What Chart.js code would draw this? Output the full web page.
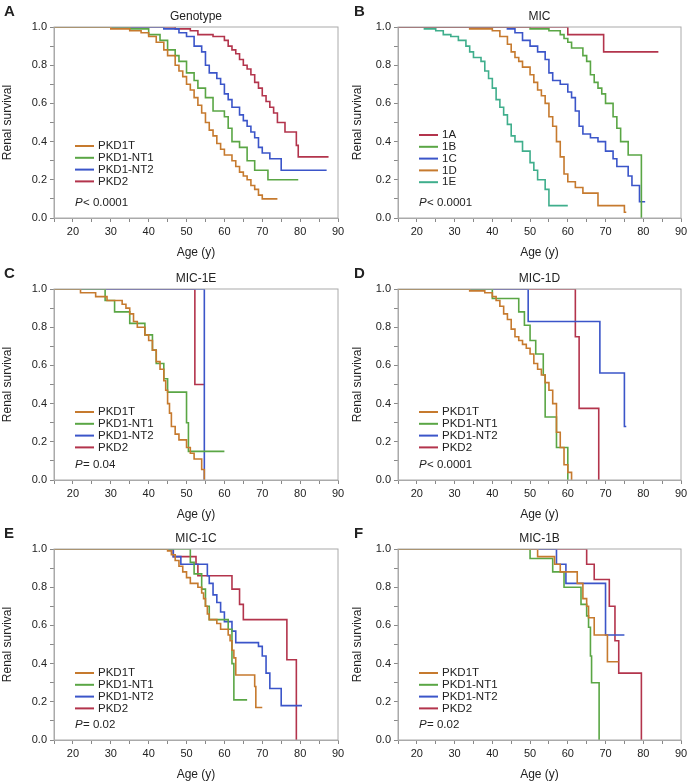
<!DOCTYPE html>
<html>
<head>
<meta charset="utf-8">
<script src="https://cdn.jsdelivr.net/npm/chart.js@4"></script>
<style>
  body { margin: 0; background: #fff; }
  .panel { position: absolute; width: 350px; height: 260px; }
</style>
</head>
<body>
<div class="panel" style="left:0;top:0"><canvas id="cA"></canvas></div>
<div class="panel" style="left:350px;top:0"><canvas id="cB"></canvas></div>
<div class="panel" style="left:0;top:262px"><canvas id="cC"></canvas></div>
<div class="panel" style="left:350px;top:262px"><canvas id="cD"></canvas></div>
<div class="panel" style="left:0;top:522px"><canvas id="cE"></canvas></div>
<div class="panel" style="left:350px;top:522px"><canvas id="cF"></canvas></div>
<script>
// survival curves as [age, survival after event]
const genoLabels = ['PKD1T', 'PKD1-NT1', 'PKD1-NT2', 'PKD2'];
const micLabels = ['1A', '1B', '1C', '1D', '1E'];
const xTicks = [20, 30, 40, 50, 60, 70, 80, 90];

const aPKD1T = [[15,1],[30,0.99],[35,0.98],[38,0.97],[40,0.95],[42,0.92],[44,0.88],[45,0.85],[47,0.80],[48,0.77],[49,0.74],[50,0.70],[51,0.67],[52,0.63],[53,0.59],[54,0.55],[55,0.50],[56,0.46],[57,0.43],[58,0.39],[59,0.36],[60,0.33],[62,0.30],[63,0.27],[64,0.24],[65,0.22],[66,0.20],[67,0.17],[68,0.15],[69,0.12],[70,0.10],[74,0.10]];
const aNT1 = [[15,1],[35,0.99],[40,0.96],[43,0.93],[45,0.88],[47,0.85],[48,0.82],[50,0.76],[52,0.72],[53,0.68],[55,0.63],[57,0.56],[60,0.53],[61,0.47],[62,0.40],[64,0.37],[66,0.30],[68,0.25],[71.5,0.20],[79.5,0.20]];
const aNT2 = [[15,1],[44,0.99],[48,0.97],[50,0.95],[52,0.90],[54,0.87],[55,0.80],[56,0.76],[58,0.73],[59,0.70],[60,0.65],[61,0.62],[62,0.58],[64,0.54],[65,0.51],[66,0.48],[67,0.45],[68,0.42],[69,0.37],[70,0.34],[72,0.31],[75,0.25],[87,0.25]];
const aPKD2 = [[15,1],[47,0.99],[51,0.98],[53,0.96],[57,0.95],[60,0.93],[61,0.90],[62,0.88],[63,0.86],[64,0.83],[65,0.80],[66,0.78],[67,0.75],[68,0.71],[69,0.68],[70,0.64],[71,0.61],[72,0.58],[73,0.55],[74,0.50],[76,0.45],[79,0.38],[79.5,0.32],[87.5,0.32]];

const b1A = [[15,1],[60,0.96],[69.5,0.87],[84,0.87]];
const b1B = [[15,1],[50,0.99],[55,0.98],[58,0.96],[59,0.94],[60,0.92],[61,0.89],[64,0.85],[65,0.82],[66,0.75],[67,0.71],[68,0.68],[69,0.65],[70,0.60],[72,0.53],[73,0.47],[74,0.40],[76,0.33],[79.5,0]];
const b1C = [[15,1],[44,0.99],[46,0.97],[48,0.93],[50,0.90],[52,0.87],[54,0.83],[55,0.76],[56,0.72],[58,0.70],[60,0.66],[61,0.63],[62,0.56],[63,0.48],[64,0.44],[66,0.42],[68,0.40],[70,0.35],[72,0.31],[73,0.27],[76,0.22],[77,0.17],[79,0.085],[80.5,0.085]];
const b1D = [[15,1],[34,0.99],[40,0.98],[42,0.95],[44,0.91],[45,0.87],[46,0.84],[47,0.82],[48,0.79],[50,0.75],[51,0.71],[52,0.67],[53,0.64],[54,0.60],[55,0.53],[56,0.48],[57,0.40],[58,0.32],[59,0.23],[60,0.19],[62,0.16],[64,0.13],[68,0.065],[75,0.03],[75.5,0.03]];
const b1E = [[15,1],[22,0.99],[25,0.98],[27,0.96],[29,0.95],[31,0.93],[33,0.90],[34,0.87],[35,0.84],[37,0.82],[38,0.77],[39,0.73],[40,0.68],[41,0.62],[42,0.58],[43,0.54],[44,0.49],[45,0.43],[46,0.40],[48,0.35],[50,0.29],[51,0.25],[52,0.20],[54,0.15],[55,0.065],[60,0.065]];

const cPKD1T = [[15,1],[22,0.98],[26,0.96],[29,0.94],[33,0.92],[34,0.90],[35,0.87],[36,0.83],[37,0.80],[39,0.76],[40,0.73],[41,0.68],[42,0.62],[43,0.58],[44,0.52],[44.5,0.47],[45,0.40],[45.5,0.35],[46,0.28],[47,0.24],[48,0.21],[50,0.17],[51,0.14],[52,0.11],[54,0.055],[54.7,0]];
const cNT1 = [[15,1],[28.5,0.94],[31,0.88],[35,0.82],[39,0.76],[41,0.68],[42,0.61],[44,0.53],[45,0.46],[50,0.30],[50.5,0.15],[60,0.15]];
const cNT2 = [[15,1],[54.7,0]];
const cPKD2 = [[15,1],[52.2,0.5],[54.7,0.5]];

const dPKD1T = [[15,1],[34,0.99],[38,0.98],[40,0.96],[41,0.94],[42,0.91],[43,0.87],[44,0.84],[45,0.79],[46,0.75],[47,0.73],[48,0.71],[49,0.69],[50,0.66],[51,0.61],[52,0.58],[53,0.55],[54,0.51],[55,0.47],[56,0.40],[57,0.25],[58,0.17],[59,0.08],[60,0.04],[61,0]];
const dNT1 = [[15,1],[40,0.95],[47,0.88],[48.5,0.81],[50,0.73],[51.5,0.66],[53.5,0.55],[54,0.33],[57,0.17],[60,0]];
const dNT2 = [[15,1],[49.5,0.83],[68.5,0.56],[75,0.28],[75.5,0.28]];
const dPKD2 = [[15,1],[62,0.75],[63,0.375],[68.2,0]];

const ePKD1T = [[15,1],[45,0.99],[46,0.97],[47,0.94],[48,0.91],[49,0.88],[50,0.85],[51,0.82],[53,0.80],[54,0.77],[54.5,0.74],[55,0.70],[55.5,0.66],[56,0.63],[58,0.61],[59,0.58],[61,0.55],[61.5,0.52],[62,0.47],[62.5,0.43],[63,0.34],[68,0.28],[68.3,0.17],[70,0.17]];
const eNT1 = [[15,1],[51,0.93],[52,0.87],[54,0.79],[55,0.70],[56,0.63],[60,0.63],[61,0.58],[62,0.40],[62.5,0.21],[66,0.21]];
const eNT2 = [[15,1],[46.5,0.96],[48.5,0.92],[55.5,0.86],[56,0.82],[57,0.76],[58,0.72],[59,0.67],[60,0.62],[62,0.57],[63,0.51],[69,0.49],[70,0.44],[71,0.35],[72,0.27],[75,0.18],[80.5,0.18]];
const ePKD2 = [[15,1],[46.5,0.96],[52.5,0.92],[53,0.86],[62,0.79],[64,0.71],[65,0.63],[76.5,0.42],[79,0]];

const fPKD1T = [[15,1],[52,0.96],[56.5,0.92],[58,0.88],[62.5,0.82],[64,0.74],[65,0.70],[65.5,0.64],[67,0.55],[70,0.55],[70.5,0.41],[73.5,0.41]];
const fNT1 = [[15,1],[50,0.95],[56,0.88],[59,0.80],[63.5,0.71],[65,0.65],[65.5,0.59],[66,0.44],[66.3,0.30],[68.3,0]];
const fNT2 = [[15,1],[57,0.92],[59.5,0.82],[70,0.55],[75,0.55]];
const fPKD2 = [[15,1],[65,0.92],[67,0.84],[71,0.70],[72.5,0.52],[73.5,0.35],[79.5,0]];

const cOrange = '#c67a2e', cGreen = '#5aa645', cBlue = '#3b55c9', cRed = '#b3344c', cTeal = '#3fae8c';
const FONT = 'Liberation Sans, Arial, sans-serif';

const frame = {
  id: 'frame',
  afterDraw(chart, args, o) {
    const { ctx, chartArea: a } = chart;
    ctx.save();
    ctx.strokeStyle = '#aaa';
    ctx.lineWidth = 1;
    ctx.strokeRect(a.left, a.top, a.right - a.left, a.bottom - a.top);
    ctx.fillStyle = '#222';
    ctx.font = 'bold 15px ' + FONT;
    ctx.textBaseline = 'alphabetic';
    ctx.fillText(o.letter, 4, 16);
    ctx.font = '12px ' + FONT;
    ctx.textAlign = 'center';
    ctx.fillText(o.title, (a.left + a.right) / 2, 20);
    ctx.textAlign = 'left';
    ctx.font = '11.5px ' + FONT;
    chart.data.datasets.forEach((d, i) => {
      const y = o.legY + i * 11.8;
      ctx.strokeStyle = d.borderColor;
      ctx.lineWidth = 2;
      ctx.beginPath();
      ctx.moveTo(a.left + 21, y);
      ctx.lineTo(a.left + 40, y);
      ctx.stroke();
      ctx.fillStyle = '#222';
      ctx.textBaseline = 'middle';
      ctx.fillText(d.label, a.left + 44, y);
    });
    ctx.font = 'italic 11.5px ' + FONT;
    ctx.fillText('P', a.left + 21, a.bottom - 15);
    ctx.font = '11.5px ' + FONT;
    ctx.fillText(o.p, a.left + 29, a.bottom - 15);
    ctx.restore();
  }
};

function makePanel(id, letter, title, labels, series, colors, p, leftW, rightPad, legY) {
  new Chart(document.getElementById(id), {
    type: 'line',
    data: {
      datasets: series.map((s, i) => ({
        label: labels[i],
        data: s.map(([x, y]) => ({ x, y })),
        borderColor: colors[i],
        borderWidth: 1.6,
        stepped: 'before',
        pointRadius: 0,
        fill: false
      }))
    },
    options: {
      responsive: true,
      maintainAspectRatio: false,
      animation: false,
      layout: { padding: { top: 27, right: rightPad } },
      plugins: { legend: { display: false }, tooltip: { enabled: false },
        frame: { letter, title, p, legY } },
      scales: {
        x: {
          type: 'linear', min: 15, max: 90,
          afterFit: s => { s.height = 42; },
          afterBuildTicks: s => { s.ticks = []; for (let v = 15; v <= 90; v += 5) s.ticks.push({ value: v }); },
          ticks: { font: { family: FONT, size: 11 }, color: '#222', maxRotation: 0,
            autoSkip: false, callback: v => xTicks.includes(v) ? v : '' },
          grid: { drawOnChartArea: false, tickLength: 4, color: '#888' },
          border: { color: '#aaa' },
          title: { display: true, text: 'Age (y)', font: { family: FONT, size: 12 }, color: '#222', padding: 0 }
        },
        y: {
          min: 0, max: 1,
          afterFit: s => { s.width = leftW; },
          ticks: { stepSize: 0.1, font: { family: FONT, size: 11 }, color: '#222',
            callback: v => (Math.round(v * 10) % 2 === 0) ? v.toFixed(1) : '' },
          grid: { drawOnChartArea: false, tickLength: 4, color: '#888' },
          border: { color: '#aaa' },
          title: { display: true, text: 'Renal survival', font: { family: FONT, size: 12 }, color: '#222', padding: 0 }
        }
      }
    },
    plugins: [frame]
  });
}

const gColors = [cOrange, cGreen, cBlue, cRed];
makePanel('cA', 'A', 'Genotype', genoLabels, [aPKD1T, aNT1, aNT2, aPKD2], gColors, '< 0.0001', 54, 12, 146);
makePanel('cB', 'B', 'MIC', micLabels, [b1A, b1B, b1C, b1D, b1E], [cRed, cGreen, cBlue, cOrange, cTeal], '< 0.0001', 48, 19, 135);
makePanel('cC', 'C', 'MIC-1E', genoLabels, [cPKD1T, cNT1, cNT2, cPKD2], gColors, '= 0.04', 54, 12, 150);
makePanel('cD', 'D', 'MIC-1D', genoLabels, [dPKD1T, dNT1, dNT2, dPKD2], gColors, '< 0.0001', 48, 19, 150);
makePanel('cE', 'E', 'MIC-1C', genoLabels, [ePKD1T, eNT1, eNT2, ePKD2], gColors, '= 0.02', 54, 12, 151);
makePanel('cF', 'F', 'MIC-1B', genoLabels, [fPKD1T, fNT1, fNT2, fPKD2], gColors, '= 0.02', 48, 19, 151);
</script>
</body>
</html>
